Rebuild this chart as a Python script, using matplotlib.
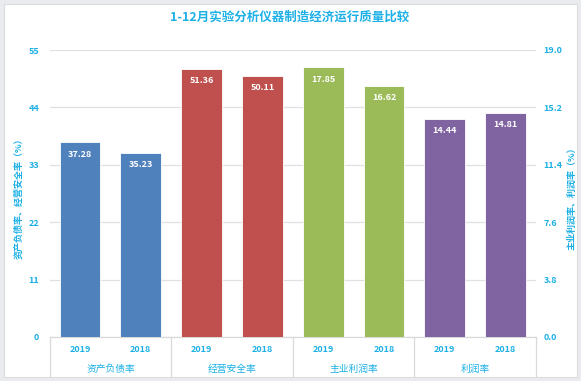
import matplotlib
matplotlib.use("Agg")
import matplotlib.pyplot as plt
from matplotlib.patches import Rectangle
from matplotlib.transforms import blended_transform_factory

plt.rcParams['font.family'] = ['Noto Sans CJK SC', 'DejaVu Sans']

groups = ['资产负债率', '经营安全率', '主业利润率', '利润率']
years = ['2019', '2018']
left_values = [37.28, 35.23, 51.36, 50.11]
right_values = [17.85, 16.62, 14.44, 14.81]
colors = ['#4f81bd', '#c0504d', '#9bbb59', '#8064a2']
left_ticks = [0, 11, 22, 33, 44, 55]
right_ticks = [0.0, 3.8, 7.6, 11.4, 15.2, 19.0]

txt = '#1cb0e6'
W, H = 581, 381
fig = plt.figure(figsize=(W / 100, H / 100), dpi=100)
fig.patch.set_facecolor('#e9ebee')
fig.add_artist(Rectangle((4 / W, 4 / H), 573 / W, 373 / H, transform=fig.transFigure,
                         facecolor='white', edgecolor='#dcdcdc', lw=0.8, zorder=0))

ax = fig.add_axes([49.6 / W, 1 - 337 / H, (536 - 49.6) / W, (337 - 50) / H])
ax2 = ax.twinx()
for a in (ax, ax2):
    a.set_facecolor('none')
    for s in a.spines.values():
        s.set_visible(False)
ax.set_xlim(-0.5, 7.5)
ax.set_ylim(0, 55)
ax2.set_ylim(0, 19)
ax.set_yticks(left_ticks)
ax.set_yticklabels([str(t) for t in left_ticks])
ax2.set_yticks(right_ticks)
ax2.set_yticklabels([f'{t:.1f}' for t in right_ticks])
ax.tick_params(axis='y', length=0, colors=txt, labelsize=6.5, pad=7.5)
ax2.tick_params(axis='y', length=0, colors=txt, labelsize=6.5, pad=5.5)
for lab in ax.get_yticklabels() + ax2.get_yticklabels():
    lab.set_fontweight('bold')
ax.set_xticks([])
ax.grid(axis='y', color='#e0e0e0', lw=0.9)
ax.set_axisbelow(True)

bw = 0.67
for gi in range(4):
    for yi in range(2):
        x = gi * 2 + yi
        if gi < 2:
            v = left_values[gi * 2 + yi]
            a = ax
            top = 55
        else:
            v = right_values[(gi - 2) * 2 + yi]
            a = ax2
            top = 19
        a.bar(x, v, width=bw, color=colors[gi], edgecolor='white', lw=0.6, zorder=3)
        a.text(x, v - top * 0.025, f'{v:.2f}', ha='center', va='top', color='white',
               fontsize=6.5, fontweight='bold', zorder=4)

# category axis
trans = blended_transform_factory(ax.transData, ax.transAxes)
ax.plot([-0.5, 7.5], [0, 0], transform=trans, color='#d9d9d9', lw=0.9, clip_on=False)
for b in [-0.5, 1.5, 3.5, 5.5, 7.5]:
    ax.plot([b, b], [0, -39 / 287], transform=trans, color='#d9d9d9', lw=0.9, clip_on=False)
for gi, g in enumerate(groups):
    for yi, yr in enumerate(years):
        ax.text(gi * 2 + yi, -13 / 287, yr, transform=trans, ha='center', va='center',
                color=txt, fontsize=6.5, fontweight='bold')
    ax.text(gi * 2 + 0.5, -32 / 287, g, transform=trans, ha='center', va='center',
            color=txt, fontsize=7)

fig.text(290 / W, 1 - 17 / H, '1-12月实验分析仪器制造经济运行质量比较', ha='center', va='center',
         color=txt, fontsize=9, fontweight='bold')
fig.text(19 / W, 1 - 196 / H, '资产负债率、经营安全率（%）', rotation=90, ha='center', va='center',
         color=txt, fontsize=6.5, fontweight='bold')
fig.text(572 / W, 1 - 196 / H, '主业利润率、利润率（%）', rotation=90, ha='center', va='center',
         color=txt, fontsize=6.5, fontweight='bold')

fig.savefig('out.png', dpi=100)
